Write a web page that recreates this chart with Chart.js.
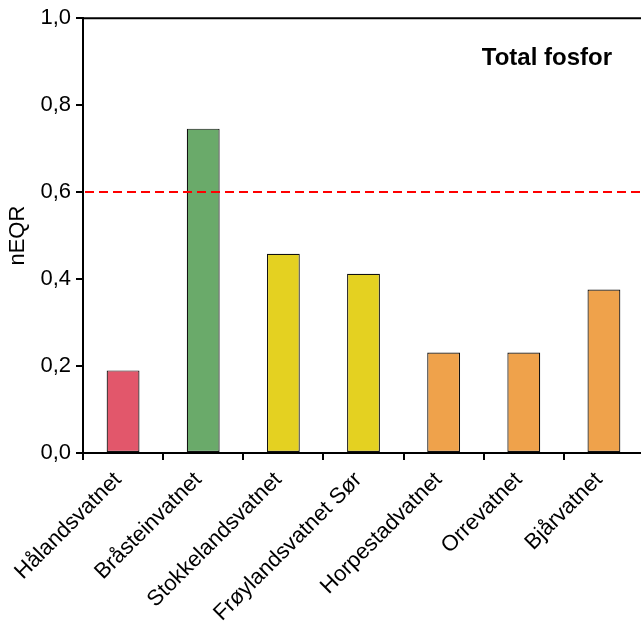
<!DOCTYPE html>
<html lang="no">
<head>
<meta charset="utf-8">
<title>Total fosfor</title>
<style>
  html, body { margin: 0; padding: 0; background: #fff; overflow: hidden; }
</style>
</head>
<body>
<canvas id="fosforChart" width="644" height="626" style="display:block"></canvas>
<script src="https://cdn.jsdelivr.net/npm/chart.js@4/dist/chart.umd.min.js"></script>
<script>
// innsjøer og nEQR-verdier (lest av figuren)
var lakes = ['Hålandsvatnet', 'Bråsteinvatnet', 'Stokkelandsvatnet', 'Frøylandsvatnet Sør', 'Horpestadvatnet', 'Orrevatnet', 'Bjårvatnet'];
var neqr = [0.19, 0.746, 0.458, 0.412, 0.231, 0.231, 0.376];
var barColors = ['#E2576B', '#6AAA6A', '#E4D121', '#E4D121', '#EFA24B', '#EFA24B', '#EFA24B'];
var yTicks = [0, 0.2, 0.4, 0.6, 0.8, 1.0];
var grense = 0.6; // grense god/moderat
var title = 'Total fosfor';

var fontFam = '"Liberation Sans", Arial, sans-serif';

// stiplet linje, toppramme og tittel
var extras = {
  id: 'extras',
  afterDatasetsDraw: function(chart) {
    var c = chart.ctx, a = chart.chartArea, y = chart.scales.y;
    c.save();
    c.strokeStyle = '#000';
    c.lineWidth = 2;
    c.beginPath();
    c.moveTo(a.left - 1, a.top);
    c.lineTo(a.right, a.top);
    c.stroke();

    var yy = y.getPixelForValue(grense);
    c.strokeStyle = '#FF0000';
    c.lineWidth = 2;
    c.setLineDash([9, 5]);
    c.beginPath();
    c.moveTo(a.left + 2, yy);
    c.lineTo(a.right, yy);
    c.stroke();
    c.setLineDash([]);

    c.fillStyle = '#000';
    c.font = 'bold 24px ' + fontFam;
    c.textAlign = 'right';
    c.textBaseline = 'alphabetic';
    c.fillText(title, 612, 65);
    c.restore();
  }
};

var ctx = document.getElementById('fosforChart');
var chart = new Chart(ctx, {
  type: 'bar',
  data: {
    labels: lakes,
    datasets: [{
      data: neqr,
      backgroundColor: barColors,
      borderColor: '#111',
      borderWidth: 1.2,
      borderSkipped: false,
      barPercentage: 0.41,
      categoryPercentage: 1.0
    }]
  },
  options: {
    responsive: false,
    animation: false,
    layout: { padding: { top: 16, right: 0, left: 0, bottom: 0 } },
    plugins: {
      legend: { display: false },
      tooltip: { enabled: false }
    },
    scales: {
      x: {
        grid: { drawOnChartArea: false, color: '#000', lineWidth: 2, tickLength: 7, offset: true },
        border: { color: '#000', width: 2 },
        ticks: {
          color: '#000',
          font: { family: fontFam, size: 22 },
          maxRotation: 45,
          minRotation: 45,
          autoSkip: false,
          padding: 7,
          labelOffset: -5
        },
        afterFit: function(s) { s.height = 173; }
      },
      y: {
        min: 0,
        max: 1,
        afterBuildTicks: function(s) { s.ticks = yTicks.map(function(v) { return { value: v }; }); },
        grid: { drawOnChartArea: false, color: '#000', lineWidth: 2, tickLength: 7 },
        border: { color: '#000', width: 2 },
        ticks: {
          color: '#000',
          font: { family: fontFam, size: 22 },
          padding: 5,
          callback: function(v) { return v.toFixed(1).replace('.', ','); }
        },
        title: {
          display: true,
          text: 'nEQR',
          color: '#000',
          font: { family: fontFam, size: 22 },
          padding: { top: 5, bottom: 0 }
        },
        afterFit: function(s) { s.width = 83; }
      }
    }
  },
  plugins: [extras]
});
</script>
</body>
</html>
